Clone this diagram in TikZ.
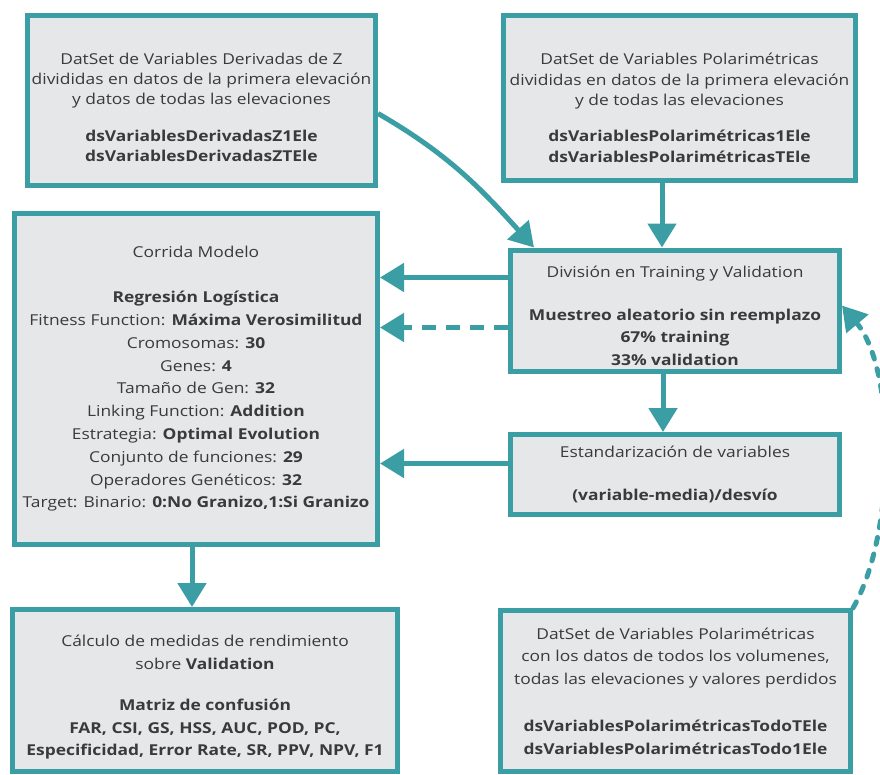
\documentclass[tikz,border=0pt]{standalone}
\usepackage{fontspec}
\setmainfont[FakeStretch=1.16]{Open Sans}
\usetikzlibrary{arrows.meta}

\definecolor{tealline}{HTML}{3B9EA5}
\definecolor{boxgray}{HTML}{E6E7E9}
\definecolor{ink}{HTML}{3A3A3A}

% strut that pushes the text block down inside a box
\newcommand{\lift}[1]{\rule{0pt}{#1}}

\tikzset{
  box/.style={draw=tealline, fill=boxgray, line width=5pt, align=center,
    text=ink, inner sep=0pt, font=\fontsize{15}{22.8}\selectfont},
  topbox/.style={box, font=\fontsize{15}{20.3}\selectfont},
  flow/.style={draw=tealline, line width=5pt, -{Triangle[width=28pt,length=24pt]}},
  dashflow/.style={flow, dash pattern=on 14pt off 10pt},
  dotflow/.style={flow, dash pattern=on 7pt off 10pt, line cap=round}
}

\begin{document}
\begin{tikzpicture}[x=1pt, y=-1pt]
    \useasboundingbox (0,0) rectangle (880,774);

    % Input datasets (top)
    \node[topbox, minimum width=348pt, minimum height=170pt] (dsZ) at (201.5,100.5)
      {\lift{25pt}DatSet de Variables Derivadas de Z\\divididas en datos de la primera elevación\\y datos de todas las elevaciones\\[16pt]
       \textbf{dsVariablesDerivadasZ1Ele}\\\textbf{dsVariablesDerivadasZTEle}};
    \node[topbox, minimum width=352pt, minimum height=165pt] (dsPol) at (679.5,98)
      {\lift{31pt}DatSet de Variables Polarimétricas\\divididas en datos de la primera elevación\\y de todas las elevaciones\\[16pt]
       \textbf{dsVariablesPolarimétricas1Ele}\\\textbf{dsVariablesPolarimétricasTEle}};

    % Model run
    \node[box, minimum width=363pt, minimum height=331pt] (modelo) at (196,379)
      {Corrida Modelo\\[22pt]
       \textbf{Regresión Logística}\\
       Fitness Function: \textbf{Máxima Verosimilitud}\\
       Cromosomas: \textbf{30}\\
       Genes: \textbf{4}\\
       Tamaño de Gen: \textbf{32}\\
       Linking Function: \textbf{Addition}\\
       Estrategia: \textbf{Optimal Evolution}\\
       Conjunto de funciones: \textbf{29}\\
       Operadores Genéticos: \textbf{32}\\
       Target: Binario: \textbf{0:No Granizo,1:Si Granizo}};

    % Split and standardisation
    \node[box, minimum width=329pt, minimum height=121pt] (division) at (675,310.5)
      {\lift{22pt}División en Training y Validation\\[20pt]
       \textbf{Muestreo aleatorio sin reemplazo}\\\textbf{67\% training}\\\textbf{33\% validation}};
    \node[box, minimum width=329pt, minimum height=80pt] (estand) at (675,474.5)
      {Estandarización de variables\\[20pt]\textbf{(variable-media)/desvío}};

    % Bottom row
    \node[box, minimum width=385pt, minimum height=162pt] (medidas) at (205,690.5)
      {\lift{25pt}Cálculo de medidas de rendimiento\\sobre \textbf{Validation}\\[18pt]
       \textbf{Matriz de confusión}\\\textbf{FAR, CSI, GS, HSS, AUC, POD, PC,}\\
       \textbf{Especificidad, Error Rate, SR, PPV, NPV, F1}};
    \node[box, minimum width=350pt, minimum height=161pt] (dsTodo) at (675.5,691)
      {DatSet de Variables Polarimétricas\\con los datos de todos los volumenes,\\todas las elevaciones y valores perdidos\\[24pt]
       \textbf{dsVariablesPolarimétricasTodoTEle}\\\textbf{dsVariablesPolarimétricasTodo1Ele}};

    % Connectors
    \draw[flow] ([yshift=-13pt]dsZ.east) to[out=-30,in=132] ([xshift=26pt]division.north west);
    \draw[flow] ([xshift=-13pt]division.north |- dsPol.south) -- ([xshift=-13pt]division.north);
    \draw[flow] ([xshift=-12pt]division.south) -- ([xshift=-12pt]estand.north);
    \draw[flow] ([yshift=33pt]division.west) -- ([yshift=33pt]division.west -| modelo.east);
    \draw[dashflow] ([yshift=-17pt]division.west) -- ([yshift=-17pt]division.west -| modelo.east);
    \draw[flow] ([yshift=11pt]estand.west) -- ([yshift=11pt]estand.west -| modelo.east);
    \draw[flow] ([xshift=-4pt]modelo.south) -- ([xshift=-4pt]modelo.south |- medidas.north);
    \draw[dotflow] (dsTodo.north east) to[out=60,in=-50,looseness=0.72] ([yshift=5pt]division.east);
\end{tikzpicture}
\end{document}
